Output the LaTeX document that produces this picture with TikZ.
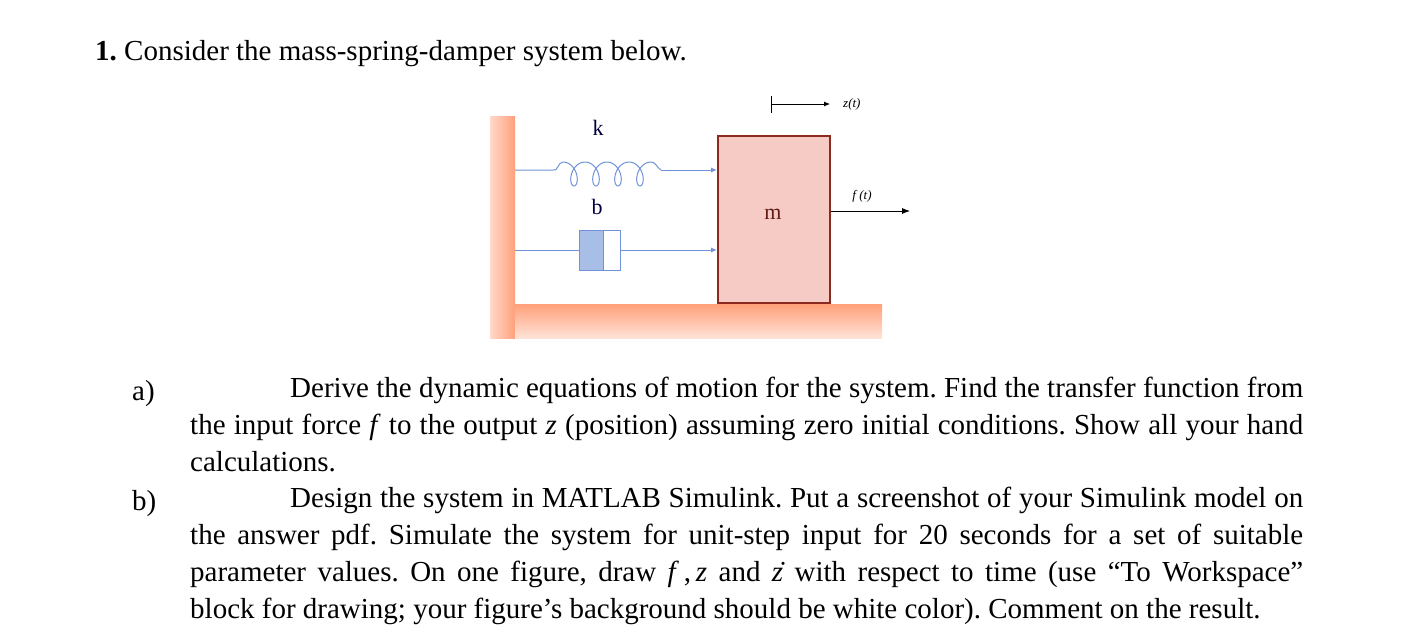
\documentclass[tikz,border=0pt]{standalone}
\usepackage{fontspec}
\setmainfont{Liberation Serif}
\usetikzlibrary{arrows.meta}
\definecolor{spr}{HTML}{6F93D6}
\definecolor{wallc}{HTML}{FFA07A}
\definecolor{masf}{HTML}{F6CBC6}
\definecolor{masd}{HTML}{8B2A1E}
\tikzset{link/.style={spr,line width=1pt,-{Latex[length=6pt,width=5pt]}},
  body/.style={font=\fontsize{29}{37}\selectfont,inner sep=0pt},
  lbl/.style={font=\fontsize{22}{26}\selectfont,text=black!75!blue,inner sep=0pt},
  small/.style={font=\fontsize{13}{15}\selectfont\itshape,inner sep=0pt}}
\begin{document}
\frenchspacing
\begin{tikzpicture}[x=1pt,y=-1pt]
\useasboundingbox (0,0) rectangle (1410,643);
\node[body,anchor=base west] (t1) at (95,60) {\textbf{1.} Consider the mass-spring-damper system below.};
% wall and floor
\shade[left color=wallc!40,right color=wallc] (490,116) rectangle (515,338);
\shade[top color=wallc,bottom color=wallc!30] (515,304) rectangle (882,338);
% mass
\node[draw=masd,line width=1.5pt,fill=masf,minimum width=112pt,minimum height=167pt,anchor=north west,inner sep=0pt] (m) at (717,135) {};
\node[lbl,text=masd!70!black] (ml) at (773,214) {m};
% spring
\coordinate (s0) at (515,170);
\coordinate (s1) at (553,170);
\coordinate (s2) at (661,170);
\draw[spr,line width=1pt] (s0) -- (s1) to[out=-30,in=180] (563,162);
\draw[spr,line width=1pt,smooth,domain=0:25.1327,samples=200,variable=\t] plot ({563+3.5*\t+8*sin(\t r)},{174-12*cos(\t r)});
\draw[spr,line width=1pt] (651,162) to[out=0,in=150] (s2);
\draw[link] (s2) -- (m.west |- s2);
\node[lbl] (k) at (598,128) {k};
% damper
\coordinate (d0) at (515,250);
\node[draw=spr,line width=1pt,minimum width=41pt,minimum height=40pt,anchor=west,inner sep=0pt] (db) at (579,250) {};
\fill[spr!60,draw=spr,line width=1pt] (579,230) rectangle (603,270);
\draw[spr,line width=1pt] (d0) -- (db.west);
\draw[link] (db.east) -- (m.west |- db.east);
\node[lbl] (b) at (597,207) {b};
% z(t)
\coordinate (z0) at (771,104);
\coordinate (z1) at (830,104);
\draw[line width=0.8pt] (771,96) -- (771,113);
\draw[line width=0.8pt,-{Latex[length=6pt,width=5pt]}] (z0) -- (z1);
\node[small,anchor=west] (zl) at (843,104) {z(t)};
% f(t)
\coordinate (f1) at (910,211);
\draw[line width=0.8pt,-{Latex[length=8pt,width=6pt]}] (m.east |- f1) -- (f1);
\node[small] (fl) at (862,196) {f (t)};
% text
\node[body,anchor=base west] (la) at (132,400) {a)};
\node[body,anchor=north west,text width=1113pt,align=justify] (pa) at (190,377) {\parindent=100pt\indent Derive the dynamic equations of motion for the system. Find the transfer function from the input force \textit{f} to the output \textit{z} (position) assuming zero initial conditions. Show all your hand calculations.};
\node[body,anchor=base west] (lb) at (132,510) {b)};
\node[body,anchor=north west,text width=1113pt,align=justify] (pb) at (190,487) {\parindent=100pt\indent Design the system in MATLAB Simulink. Put a screenshot of your Simulink model on\linebreak the answer pdf. Simulate the system for unit-step input for 20 seconds for a set of suitable\linebreak parameter values. On one figure, draw \textit{f}\,,\,\textit{z} and \.{\textit{z}} with respect to time (use “To Workspace”\linebreak block for drawing; your figure’s background should be white color). Comment on the result.};
\end{tikzpicture}
\end{document}
